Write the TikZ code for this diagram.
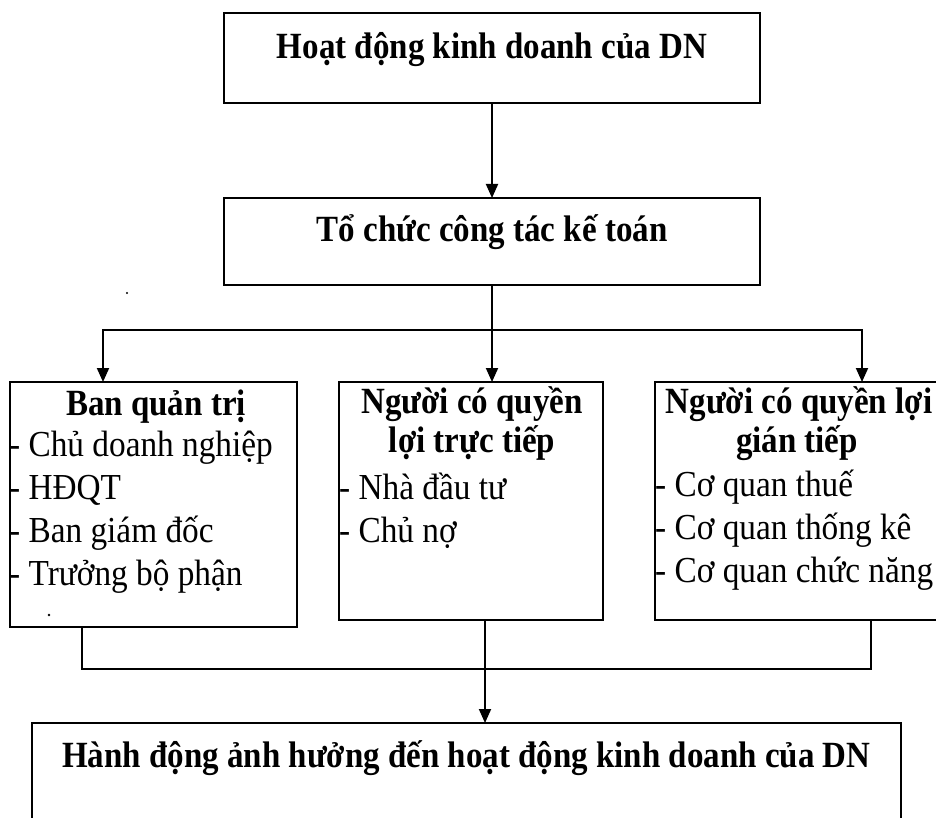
\documentclass[tikz,border=0pt]{standalone}
\usepackage{graphicx}
\usepackage{fontspec}
\setmainfont{Liberation Serif}
\usetikzlibrary{arrows.meta}
% tall, narrow lettering
\newcommand\tallbold[1]{\scalebox{1}[1.12]{#1}}
\newcommand\tallreg[1]{\scalebox{1}[1.1]{#1}}
\begin{document}
\begin{tikzpicture}[x=1pt,y=-1pt,
  frame/.style={draw,line width=1.9pt,rectangle,inner sep=0pt,outer sep=0pt},
  title/.style={font=\bfseries\fontsize{33}{40}\selectfont,anchor=base,inner sep=0pt},
  entry/.style={font=\fontsize{33.3}{43}\selectfont,anchor=base west,inner sep=0pt},
  link/.style={line width=1.9pt},
  flow/.style={link,-{Triangle[length=14pt,width=12pt]}}]

\useasboundingbox (0,0) rectangle (936,818);
\clip (0,0) rectangle (936,818);

% boxes
\node[frame,minimum width=536pt,minimum height=90pt] (top) at (492,58) {};
\node[frame,minimum width=536pt,minimum height=87pt] (org) at (492,241.5) {};
\node[frame,minimum width=287pt,minimum height=245pt] (lbox) at (153.5,504.5) {};
\node[frame,minimum width=264pt,minimum height=238pt] (mbox) at (471,501) {};
\node[frame,minimum width=286pt,minimum height=238pt] (rbox) at (798,501) {};
\node[frame,minimum width=869pt,minimum height=117pt] (act) at (466.5,781.5) {};

% headings
\node[title] (tTop) at (492,59) {\tallbold{Hoạt động kinh doanh của DN}};
\node[title] (tOrg) at (492,241) {\tallbold{Tổ chức công tác kế toán}};
\node[title] (tL) at (156,415) {\tallbold{Ban quản trị}};
\node[title] (tM1) at (472,413) {\tallbold{Người có quyền}};
\node[title] (tM2) at (472,452) {\tallbold{lợi trực tiếp}};
\node[title] (tR1) at (799,413) {\tallbold{Người có quyền lợi}};
\node[title] (tR2) at (797,452) {\tallbold{gián tiếp}};
\node[title] (tAct) at (466.5,767) {\tallbold{Hành động ảnh hưởng đến hoạt động kinh doanh của DN}};

% list entries
\node[entry] (l1) at (9,456) {\tallreg{- Chủ doanh nghiệp}};
\node[entry] (l2) at (9,499) {\tallreg{- HĐQT}};
\node[entry] (l3) at (9,542) {\tallreg{- Ban giám đốc}};
\node[entry] (l4) at (9,585) {\tallreg{- Trưởng bộ phận}};
\node[entry] (m1) at (339,499) {\tallreg{- Nhà đầu tư}};
\node[entry] (m2) at (339,542) {\tallreg{- Chủ nợ}};
\node[entry] (r1) at (655,496) {\tallreg{- Cơ quan thuế}};
\node[entry] (r2) at (655,539) {\tallreg{- Cơ quan thống kê}};
\node[entry] (r3) at (655,582) {\tallreg{- Cơ quan chức năng}};

% connectors
\draw[flow] (top.south) -- (org.north);
\path (org.south) ++(0,45) coordinate (hub);
\draw[link] (org.south) -- (hub);
\draw[flow] (hub) -| ([xshift=-50.5pt]lbox.north);
\draw[flow] (hub) -- (hub |- mbox.north);
\draw[flow] (hub) -| ([xshift=64pt]rbox.north);

\path (mbox.south) ++(14,49) coordinate (join);
\draw[link] ([xshift=-71.5pt]lbox.south) |- (join) -| ([xshift=73pt]rbox.south);
\draw[flow] ([xshift=14pt]mbox.south) -- ([xshift=14pt]mbox.south |- act.north);

% specks
\fill (49,615) circle (1.3pt);
\fill (127,293) circle (1.1pt);
\end{tikzpicture}
\end{document}
